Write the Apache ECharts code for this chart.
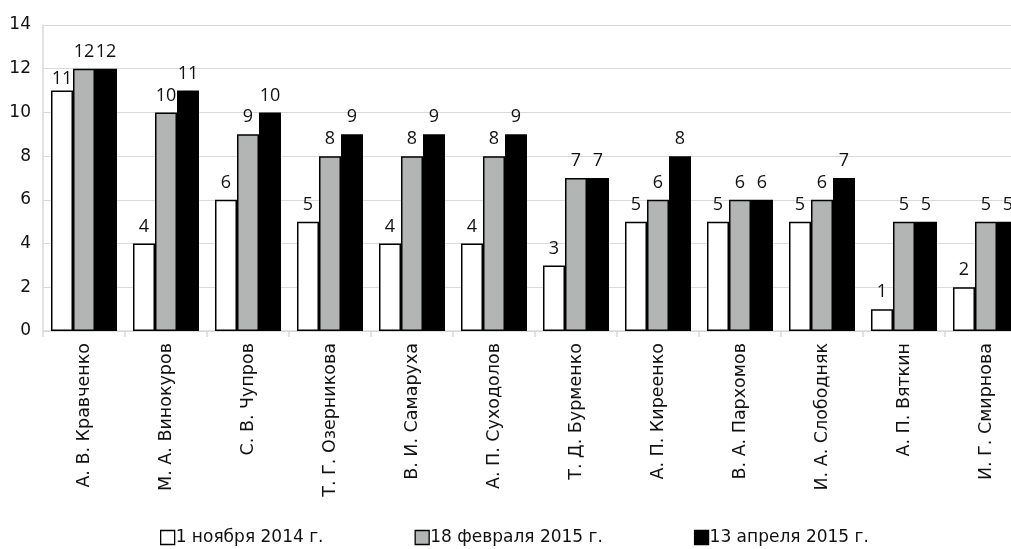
<!DOCTYPE html>
<html><head><meta charset="utf-8">
<script src="https://cdn.jsdelivr.net/npm/echarts@6/dist/echarts.min.js"></script>
<style>html,body{margin:0;padding:0;background:#fff}#c{width:1011px;height:549px}</style>
</head><body><div id="c"></div>
<script>
const categories = ["А. В. Кравченко","М. А. Винокуров","С. В. Чупров","Т. Г. Озерникова","В. И. Самаруха","А. П. Суходолов","Т. Д. Бурменко","А. П. Киреенко","В. А. Пархомов","И. А. Слободняк","А. П. Вяткин","И. Г. Смирнова"];
const seriesNames = ["1 ноября 2014 г.","18 февраля 2015 г.","13 апреля 2015 г."];
const nov2014 = [11,4,6,5,4,4,3,5,5,5,1,2];
const feb2015 = [12,10,9,8,8,8,7,6,6,6,5,5];
const apr2015 = [12,11,10,9,9,9,7,8,6,7,5,5];
const yTicks = [0,2,4,6,8,10,12,14];

const colors = ["#ffffff","#b3b5b4","#000000"];
const values = [nov2014, feb2015, apr2015];
const font = "'DejaVu Sans', sans-serif";
const labelFont = "'Open Sans', sans-serif";

const chart = echarts.init(document.getElementById('c'), null, {renderer:'canvas'});
chart.setOption({
  animation:false,
  textStyle:{fontFamily:font},
  grid:{left:43, width:984, top:25, bottom:218, containLabel:false, outerBoundsMode:'none'},
  legend:{
    bottom:-2, left:155, itemGap:91, itemWidth:14, itemHeight:14,
    textStyle:{fontFamily:font, fontSize:17, color:'#111', padding:[0,0,0,-4]},
    data: seriesNames.map((n,i)=>({name:n, icon:'rect', itemStyle:{color:colors[i], borderColor:'#000', borderWidth:1.3}}))
  },
  xAxis:{
    type:'category', data:categories,
    axisLine:{lineStyle:{color:'#d9d9d9', width:1.5}},
    axisTick:{show:true, alignWithLabel:false, length:6, lineStyle:{color:'#d9d9d9', width:1.5}},
    axisLabel:{rotate:90, interval:0, fontFamily:font, fontSize:17.5, color:'#111', margin:12}
  },
  yAxis:{
    type:'value', min:yTicks[0], max:yTicks[yTicks.length-1], interval:2,
    axisLine:{show:true, lineStyle:{color:'#d9d9d9', width:1.5}},
    axisTick:{show:false},
    splitLine:{lineStyle:{color:'#d9d9d9', width:1.2}},
    axisLabel:{fontFamily:font, fontSize:17, color:'#111', margin:12}
  },
  series: seriesNames.map((n,i)=>({
    name:n, type:'bar', barGap:'0%', barCategoryGap:'19.5%',
    data: values[i].map((v,j)=> (i===0 && j===0) ? {value:v, label:{distance:3}} : v),
    itemStyle:{color:colors[i], borderColor:'#000', borderWidth:1.5},
    label:{show:true, position:'top', distance:8, fontFamily:labelFont, fontSize:18, color:'#111'}
  }))
});
</script></body></html>
